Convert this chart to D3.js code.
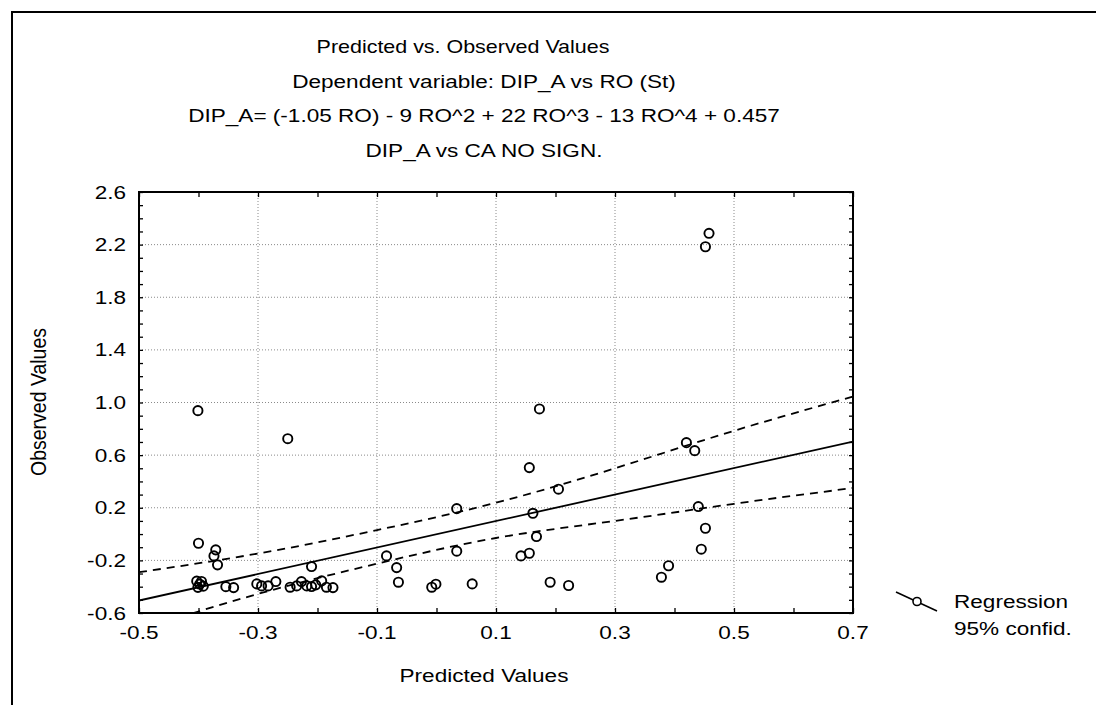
<!DOCTYPE html>
<html>
<head>
<meta charset="utf-8">
<script src="https://cdn.jsdelivr.net/npm/d3@7"></script>
<style>
  html, body { margin: 0; padding: 0; background: #fff; }
  svg { display: block; }
  text { font-family: "Liberation Sans", Arial, sans-serif; fill: #000; }
</style>
</head>
<body>
<svg id="chart" width="1096" height="705"></svg>
<script>
// ---------------- data ----------------
const titleLines = [
  "Predicted vs. Observed Values",
  "Dependent variable: DIP_A vs RO (St)",
  "DIP_A= (-1.05 RO) - 9 RO^2 + 22 RO^3 - 13 RO^4 + 0.457",
  "DIP_A vs CA NO SIGN."
];
const xLabel = "Predicted Values";
const yLabel = "Observed Values";
const legendLabels = ["Regression", "95% confid."];

const xTickValues = [-0.5, -0.3, -0.1, 0.1, 0.3, 0.5, 0.7];
const xTickLabels = ["-0.5", "-0.3", "-0.1", "0.1", "0.3", "0.5", "0.7"];
const yTickValues = [-0.6, -0.2, 0.2, 0.6, 1.0, 1.4, 1.8, 2.2, 2.6];
const yTickLabels = ["-0.6", "-0.2", "0.2", "0.6", "1.0", "1.4", "1.8", "2.2", "2.6"];

// observed vs predicted points
const predicted = [
  -0.401, -0.250, -0.400, -0.371, -0.374, -0.368,
  -0.403, -0.395, -0.401, -0.392, -0.398,
  -0.354, -0.341, -0.302, -0.294, -0.283, -0.270,
  -0.246, -0.235, -0.227, -0.218, -0.210, -0.203, -0.193, -0.185, -0.174,
  -0.210, -0.084, -0.067, -0.064, -0.008, -0.001,
  0.034, 0.034, 0.060,
  0.142, 0.156, 0.156, 0.162, 0.168, 0.173, 0.205, 0.191, 0.222,
  0.378, 0.390, 0.420, 0.434, 0.440, 0.452, 0.445, 0.452, 0.458
];
const observed = [
  0.938, 0.725, -0.070, -0.120, -0.166, -0.234,
  -0.358, -0.360, -0.405, -0.396, -0.380,
  -0.400, -0.407, -0.379, -0.394, -0.394, -0.361,
  -0.404, -0.394, -0.361, -0.394, -0.399, -0.386, -0.356, -0.404, -0.407,
  -0.247, -0.166, -0.255, -0.366, -0.404, -0.381,
  0.193, -0.130, -0.379,
  -0.166, -0.146, 0.505, 0.158, -0.019, 0.951, 0.341, -0.366, -0.391,
  -0.328, -0.241, 0.695, 0.634, 0.209, 0.044, -0.115, 2.184, 2.286
];

// regression line (observed on predicted)
const fitX = [-0.5, 0.7];
const fitY = [-0.505, 0.703];

// 95% confidence band, read at the x ticks
const bandX = [-0.5, -0.3, -0.1, 0.1, 0.3, 0.5, 0.7];
const bandUpper = [-0.290, -0.148, 0.030, 0.238, 0.500, 0.785, 1.045];
const bandLower = [-0.730, -0.455, -0.225, -0.030, 0.100, 0.230, 0.350];

// ---------------- layout ----------------
const svg = d3.select("#chart");
const plot = { left: 139, right: 853, top: 192, bottom: 613 };
const FS = 18.5;      // font size
const SX = 1.22;      // horizontal text stretch as in the reference

const x = d3.scaleLinear().domain([-0.5, 0.7]).range([plot.left, plot.right]);
const y = d3.scaleLinear().domain([-0.6, 2.6]).range([plot.bottom, plot.top]);

function addText(parent, tx, ty, str, anchor, cls, sx) {
  return parent.append("text")
    .attr("class", cls || null)
    .attr("transform", `translate(${tx},${ty}) scale(${sx || SX},1)`)
    .attr("text-anchor", anchor)
    .style("font-size", FS + "px")
    .text(str);
}

// outer frame (top and left edges visible)
svg.append("line").attr("x1", 11).attr("x2", 1096).attr("y1", 12).attr("y2", 12)
  .attr("stroke", "#000").attr("stroke-width", 2);
svg.append("line").attr("x1", 12).attr("x2", 12).attr("y1", 11).attr("y2", 705)
  .attr("stroke", "#000").attr("stroke-width", 2);

// titles
const titleY = [53, 87.5, 122, 156.5];
const titleX = [463, 484, 484, 484];
const titleSX = [1.16, SX, SX, SX];
titleLines.forEach((t, i) => addText(svg, titleX[i], titleY[i], t, "middle", "title", titleSX[i]));

// clip
svg.append("clipPath").attr("id", "clip").append("rect")
  .attr("x", plot.left).attr("y", plot.top)
  .attr("width", plot.right - plot.left).attr("height", plot.bottom - plot.top);

// grid lines
const grid = svg.append("g");
grid.selectAll("line.gx").data(xTickValues.slice(1, -1)).join("line")
  .attr("x1", d => x(d)).attr("x2", d => x(d))
  .attr("y1", plot.top).attr("y2", plot.bottom)
  .attr("stroke", "#8a8a8a").attr("stroke-width", 1).attr("stroke-dasharray", "1,2");
grid.selectAll("line.gy").data(yTickValues.slice(1, -1)).join("line")
  .attr("x1", plot.left).attr("x2", plot.right)
  .attr("y1", d => y(d)).attr("y2", d => y(d))
  .attr("stroke", "#8a8a8a").attr("stroke-width", 1).attr("stroke-dasharray", "1,2");

// axes with inward ticks (major + minor)
const xMinor = d3.range(-5, 8).map(v => v / 10);
const yMinor = d3.range(-6, 27).map(v => v / 10);

const axBottom = d3.axisBottom(x).tickValues(xMinor).tickSize(-5).tickFormat("");
const axTop = d3.axisTop(x).tickValues(xMinor).tickSize(-5).tickFormat("");
const axLeft = d3.axisLeft(y).tickValues(yMinor).tickSize(-4).tickFormat("");
const axRight = d3.axisRight(y).tickValues(yMinor).tickSize(-4).tickFormat("");

function styleAxis(g) {
  g.selectAll("path.domain").remove();
  g.selectAll(".tick line").attr("stroke", "#000").attr("stroke-width", 1.3);
}
svg.append("g").attr("transform", `translate(0,${plot.bottom})`).call(axBottom).call(styleAxis);
svg.append("g").attr("transform", `translate(0,${plot.top})`).call(axTop).call(styleAxis);
svg.append("g").attr("transform", `translate(${plot.left},0)`).call(axLeft).call(styleAxis);
svg.append("g").attr("transform", `translate(${plot.right},0)`).call(axRight).call(styleAxis);

// plot frame
svg.append("rect")
  .attr("x", plot.left).attr("y", plot.top)
  .attr("width", plot.right - plot.left).attr("height", plot.bottom - plot.top)
  .attr("fill", "none").attr("stroke", "#000").attr("stroke-width", 2);

// tick labels
xTickValues.forEach((v, i) => addText(svg, x(v), 639, xTickLabels[i], "middle", "xt"));
yTickValues.forEach((v, i) => addText(svg, 126, y(v) + 6.5, yTickLabels[i], "end", "yt"));

// axis titles
addText(svg, 484, 682, xLabel, "middle", "xl");
svg.append("text")
  .attr("transform", "translate(46,402) scale(1.12,1) rotate(-90)")
  .attr("text-anchor", "middle")
  .style("font-size", "19.5px")
  .text(yLabel);

// regression + confidence band
const gLines = svg.append("g").attr("clip-path", "url(#clip)");
const lineGen = d3.line().x(d => x(d[0])).y(d => y(d[1]));
const curveGen = d3.line().x(d => x(d[0])).y(d => y(d[1])).curve(d3.curveNatural);

gLines.append("path")
  .datum(d3.zip(fitX, fitY))
  .attr("d", lineGen)
  .attr("fill", "none").attr("stroke", "#000").attr("stroke-width", 1.8);

[bandUpper, bandLower].forEach(arr => {
  gLines.append("path")
    .datum(d3.zip(bandX, arr))
    .attr("d", curveGen)
    .attr("fill", "none").attr("stroke", "#000").attr("stroke-width", 1.8)
    .attr("stroke-dasharray", "8,6");
});

// points
svg.append("g").selectAll("circle").data(d3.zip(predicted, observed)).join("circle")
  .attr("cx", d => x(d[0])).attr("cy", d => y(d[1]))
  .attr("r", 4.6)
  .attr("fill", "none").attr("stroke", "#000").attr("stroke-width", 1.9);

// legend
const lg = svg.append("g");
lg.append("line").attr("x1", 896).attr("y1", 592).attr("x2", 937).attr("y2", 611)
  .attr("stroke", "#000").attr("stroke-width", 1.6);
lg.append("circle").attr("cx", 917).attr("cy", 601.5).attr("r", 4)
  .attr("fill", "#fff").attr("stroke", "#000").attr("stroke-width", 1.6);
legendLabels.forEach((t, i) => addText(lg, 954, 608 + i * 27, t, "start", "lt"));
</script>
</body>
</html>
